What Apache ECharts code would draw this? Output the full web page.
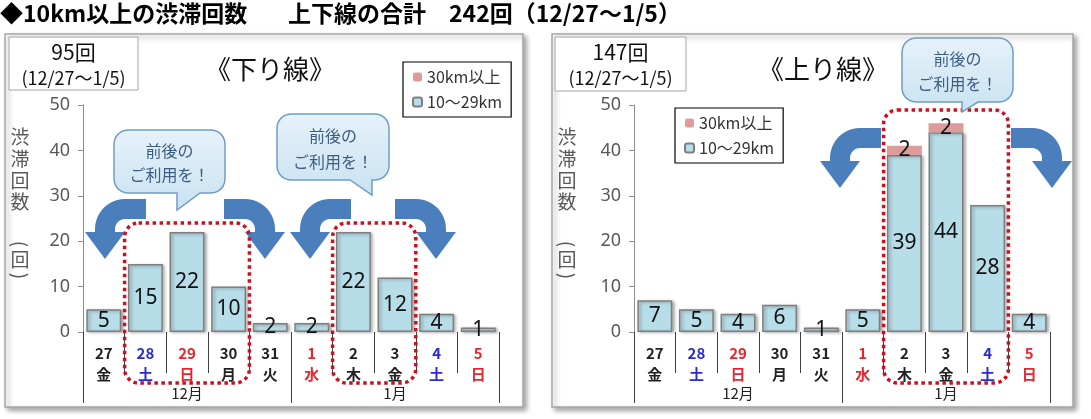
<!DOCTYPE html>
<html><head><meta charset="utf-8">
<script src="https://cdn.jsdelivr.net/npm/echarts@6/dist/echarts.min.js"></script>
<style>html,body{margin:0;padding:0;background:#fff}#c{width:1091px;height:419px}</style>
</head><body><div id="c"></div>
<script>
// ---- data ----
const days = ['27','28','29','30','31','1','2','3','4','5'];
const weekdays = ['金','土','日','月','火','水','木','金','土','日'];
const dayKinds = ['w','sat','hol','w','w','hol','w','w','sat','hol'];
const months = ['12月','1月'];
const seriesNames = ['30km以上','10～29km'];
const downShort = [5,15,22,10,2,2,22,12,4,1];
const downLong  = ['-','-','-','-','-','-','-','-','-','-'];
const upShort   = [7,5,4,6,1,5,39,44,28,4];
const upLong    = ['-','-','-','-','-','-',2,2,'-','-'];
const yMin = 0, yMax = 50, yStep = 10;
const downTotal = '95回', upTotal = '147回', period = '(12/27～1/5)';
const titleMain = '◆10km以上の渋滞回数';
const titleSum = '上下線の合計　242回（12/27～1/5）';

// ---- layout ----
const JP = '"Noto Sans CJK JP","Noto Sans",sans-serif';
const grids = [
  {left:83, top:105, width:416, height:227},
  {left:634, top:105, width:416, height:227}
];
const chart = echarts.init(document.getElementById('c'));

const rich = {
  w:{color:'#222', fontSize:15, lineHeight:21, fontWeight:'bold', fontFamily:JP},
  sat:{color:'#2a2ad0', fontSize:15, lineHeight:21, fontWeight:'bold', fontFamily:JP},
  hol:{color:'#e5262e', fontSize:15, lineHeight:21, fontWeight:'bold', fontFamily:JP}
};
function dayAxis(g){
  return {type:'category', gridIndex:g, data:days, position:'bottom', offset:10,
    axisLine:{show:false},
    axisTick:{show:true, length:41, interval:0, lineStyle:{color:'#404040', width:1}},
    axisLabel:{interval:0, margin:1, formatter:(v,i)=>`{${dayKinds[i]}|${v}}\n{${dayKinds[i]}|${weekdays[i]}}`, rich}};
}
function monthAxis(g){
  return {type:'category', gridIndex:g, data:months, position:'bottom', offset:10,
    axisLine:{show:false},
    axisTick:{show:true, length:61, interval:0, lineStyle:{color:'#404040', width:1}},
    axisLabel:{interval:0, margin:44, fontSize:15, color:'#222', fontFamily:JP}};
}
function yAxis(g){
  return {type:'value', gridIndex:g, min:yMin, max:yMax, interval:yStep,
    axisLine:{show:true, lineStyle:{color:'#8c8c8c'}},
    axisTick:{show:true, length:5, lineStyle:{color:'#8c8c8c'}},
    splitLine:{show:false},
    axisLabel:{fontSize:18, color:'#595959', margin:13, fontFamily:'"Noto Sans",sans-serif'}};
}
const barLabel = {show:true, position:'inside', fontSize:21, color:'#111', fontFamily:'"Noto Sans",sans-serif'};
function seriesFor(g, shortData, longData){
  return [
    {name:seriesNames[1], type:'bar', xAxisIndex:2*g, yAxisIndex:g, stack:'s'+g, data:shortData,
     barCategoryGap:'16%',
     itemStyle:{color:'#b7dde8', borderColor:'#7f7f7f', borderWidth:1.5,
       shadowColor:'rgba(0,0,0,0.3)', shadowBlur:3, shadowOffsetX:2, shadowOffsetY:1},
     label:barLabel},
    {name:seriesNames[0], type:'bar', xAxisIndex:2*g, yAxisIndex:g, stack:'s'+g, data:longData,
     barCategoryGap:'16%',
     itemStyle:{color:'#dd9c9c'},
     label:barLabel}
  ];
}
function legendAt(left, top){
  return {left, top, orient:'vertical', data:[seriesNames[0], seriesNames[1]],
    borderColor:'#000', borderWidth:1.2, backgroundColor:'#fff', padding:[7,9],
    itemWidth:9, itemHeight:9, itemGap:9,
    itemStyle:{shadowBlur:0, shadowOffsetX:0, shadowOffsetY:0},
    textStyle:{fontSize:16, color:'#333', fontFamily:JP}};
}

// ---- decorations ----
function panel(x,y,w,h){
  return {type:'rect', z:-10, shape:{x,y,width:w,height:h},
    style:{fill:'#fff', stroke:'#a6a6a6', lineWidth:1.5, shadowBlur:5, shadowOffsetX:3, shadowOffsetY:3, shadowColor:'rgba(0,0,0,0.35)'}};
}
function box(x,y,w,h,t1,t2){
  const cx = x + w/2;
  return [
    {type:'rect', z:1, shape:{x,y,width:w,height:h}, style:{fill:'#fff', stroke:'#a6a6a6', lineWidth:1}},
    {type:'text', z:2, x:cx, y:y+15, style:{text:t1, fontSize:21, fill:'#111', fontFamily:JP, align:'center', verticalAlign:'middle'}},
    {type:'text', z:2, x:cx, y:y+41, style:{text:t2, fontSize:18, fill:'#111', fontFamily:JP, align:'center', verticalAlign:'middle'}}
  ];
}
function yName(x){
  const st = {fontSize:19, fill:'#595959', fontFamily:JP, align:'center', verticalAlign:'middle'};
  const out = [];
  ['渋','滞','回','数'].forEach((c,i)=>out.push({type:'text', z:2, x, y:137+i*21.7, style:Object.assign({text:c}, st)}));
  out.push({type:'text', z:2, x, y:244, rotation:-Math.PI/2, style:Object.assign({text:'(' }, st)});
  out.push({type:'text', z:2, x, y:260, style:Object.assign({text:'回'}, st)});
  out.push({type:'text', z:2, x, y:276, rotation:-Math.PI/2, style:Object.assign({text:')'}, st)});
  return out;
}
function arcPts(cx, cy, r, a0, a1, n){
  const pts = [];
  for (let k=0;k<=n;k++){ const a = a0 + (a1-a0)*k/n; pts.push([cx + r*Math.cos(a), cy + r*Math.sin(a)]); }
  return pts;
}
// curved arrow: band comes from anchor, turns and points down
function arrow(ax, ay, mirror){
  const s = mirror ? -1 : 1;
  let pts = [[0,0],[-21,0]];
  pts = pts.concat(arcPts(-21,30,30,-Math.PI/2,-Math.PI,12));
  pts.push([-51,33],[-61,33],[-41,60],[-21,33],[-31,33]);
  pts = pts.concat(arcPts(-21,30,10,Math.PI,Math.PI*1.5,8));
  pts.push([0,20]);
  return {type:'polygon', z:40, shape:{points:pts.map(p=>[ax + s*p[0], ay + p[1]])},
    style:{fill:'#4a7ebd'}};
}
function bubble(x,y,w,h,tl,tr,tx,ty){
  const r = 14;
  let pts = [];
  pts = pts.concat(arcPts(x+r, y+r, r, Math.PI, Math.PI*1.5, 6));
  pts = pts.concat(arcPts(x+w-r, y+r, r, -Math.PI/2, 0, 6));
  pts = pts.concat(arcPts(x+w-r, y+h-r, r, 0, Math.PI/2, 6));
  pts.push([tr, y+h],[tx,ty],[tl, y+h]);
  pts = pts.concat(arcPts(x+r, y+h-r, r, Math.PI/2, Math.PI, 6));
  const cx = x + w/2;
  const st = {fontSize:16, fill:'#3d5d82', fontFamily:JP, align:'center', verticalAlign:'middle'};
  return [
    {type:'polygon', z:45, shape:{points:pts},
     style:{fill:{type:'linear', x:0, y:0, x2:0, y2:1, colorStops:[{offset:0,color:'#e6f2fa'},{offset:1,color:'#c9e2f1'}]},
       stroke:'#6f9dc8', lineWidth:1.5}},
    {type:'text', z:46, x:cx, y:y+h*0.33, style:Object.assign({text:'前後の'}, st)},
    {type:'text', z:46, x:cx, y:y+h*0.72, style:Object.assign({text:'ご利用を！'}, st)}
  ];
}
function catX(g, i){ return grids[g].left + grids[g].width * i / days.length; }
function dotted(g, i0, i1, top){
  const x = catX(g,i0), w = catX(g,i1) - x;
  return {type:'rect', z:42, shape:{x, y:top, width:w, height:383-top, r:14},
    style:{fill:null, stroke:'#cc1020', lineWidth:3.5, lineDash:[3.5,3.5]}};
}

const graphics = [
  panel(5,34,518,373), panel(552,34,521,373),
  {type:'text', z:2, x:0, y:13, style:{text:titleMain, fontSize:23, fontWeight:'bold', fill:'#000', fontFamily:JP, verticalAlign:'middle'}},
  {type:'text', z:2, x:288, y:13, style:{text:titleSum, fontSize:23, fontWeight:'bold', fill:'#000', fontFamily:JP, verticalAlign:'middle'}},
  ...box(9,37,129,53,downTotal,period),
  ...box(555,37,131,54,upTotal,period),
  {type:'text', z:2, x:270, y:69, style:{text:'《下り線》', fontSize:26, fill:'#111', fontFamily:JP, align:'center', verticalAlign:'middle'}},
  {type:'text', z:2, x:823, y:69, style:{text:'《上り線》', fontSize:26, fill:'#111', fontFamily:JP, align:'center', verticalAlign:'middle'}},
  ...yName(20), ...yName(567),
  dotted(0,1,4,223), dotted(0,6,8,223), dotted(1,6,9,110),
  arrow(146,199,false), arrow(224,199,true), arrow(351,199,false), arrow(395,199,true),
  arrow(881,128,false), arrow(1011,128,true),
  ...bubble(114,130,111,63,177,200,177,210),
  ...bubble(277,114,112,66,350,372,372,195),
  ...bubble(902,38,111,64,962,978,962,112)
];

chart.setOption({
  animation:false,
  grid: grids,
  xAxis: [dayAxis(0), monthAxis(0), dayAxis(1), monthAxis(1)],
  yAxis: [yAxis(0), yAxis(1)],
  legend: [legendAt(403,62), legendAt(675,108)],
  series: [...seriesFor(0, downShort, downLong), ...seriesFor(1, upShort, upLong)],
  graphic: graphics
});
</script></body></html>
